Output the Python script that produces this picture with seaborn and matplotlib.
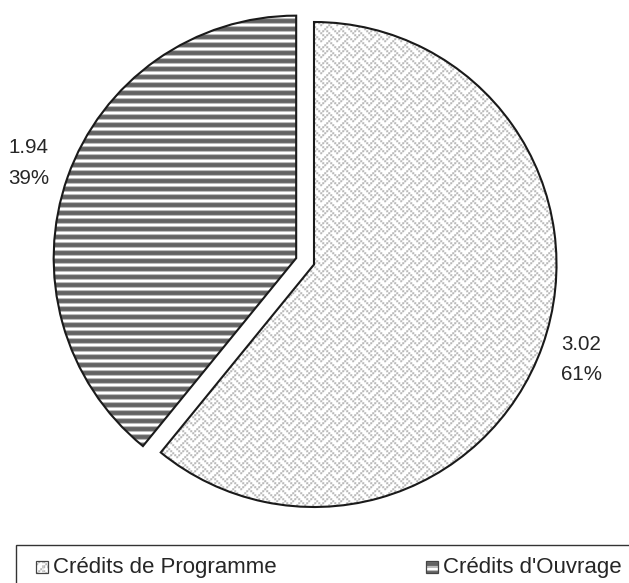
import numpy as np
import matplotlib
matplotlib.use("Agg")
import matplotlib.pyplot as plt
from matplotlib.patches import Rectangle
from matplotlib.transforms import IdentityTransform
import seaborn as sns

# Budget split (values in the chart's unit)
categories = ["Crédits de Programme", "Crédits d'Ouvrage"]
values = [3.02, 1.94]
explode = [0.0, 0.078]

sns.set_theme(style="white")
plt.rcParams["font.family"] = ["Liberation Sans", "DejaVu Sans"]

W, H, DPI = 629, 583, 100
R_PX = 242.5              # pie radius in pixels
CX, CY = 314.0, 264.5     # pie centre, pixels from the top-left corner
TXT = "#262626"
EDGE = "#1a1a1a"

fig = plt.figure(figsize=(W / DPI, H / DPI), dpi=DPI)
ax = fig.add_axes([0, 0, 1, 1])
ax.axis("off")

wedges, _ = ax.pie(values, startangle=90, counterclock=False, explode=explode,
                   colors=["none", "none"],
                   wedgeprops=dict(edgecolor=EDGE, linewidth=1.5, zorder=3))
ax.set_aspect("auto")
x0, x1 = -CX / R_PX, (W - CX) / R_PX
y0, y1 = -(H - CY) / R_PX, CY / R_PX
ax.set_xlim(x0, x1)
ax.set_ylim(y0, y1)


def px2data(px, py):
    return (px - CX) / R_PX, (CY - py) / R_PX


# --- fill textures, one texel per output pixel ---
weave_bits = [0x88, 0x54, 0x22, 0x45, 0x88, 0x14, 0x22, 0x51]
tile = np.array([[(b >> (7 - i)) & 1 for i in range(8)] for b in weave_bits], float)
tile = np.kron(tile, np.ones((2, 2)))
big = np.tile(tile, (H // 16 + 2, W // 16 + 2))
soft = (big + np.roll(big, 1, 0) * 0.35 + np.roll(big, 1, 1) * 0.35) / 1.7
soft = np.clip(soft, 0, 1)[:H, :W]
weave = 1.0 - soft * 0.27
weave_rgb = np.dstack([weave] * 3)

stripe_rows = np.array([1.0, 1.0, 0.74, 0.42, 0.39, 0.39, 0.42, 0.74])
rows = np.tile(stripe_rows, H // len(stripe_rows) + 2)[:H]
stripes = np.repeat(rows[:, None], W, axis=1)
stripe_rgb = np.dstack([stripes] * 3)

textures = [weave_rgb, stripe_rgb]


def textured(tex, clip):
    im = ax.imshow(tex, extent=(x0, x1, y0, y1), origin="upper",
                   interpolation="nearest", zorder=1, aspect="auto")
    im.set_clip_path(clip)
    return im


for w, tex in zip(wedges, textures):
    textured(tex, w)

# value / share labels
total = sum(values)
for w, v in zip(wedges, values):
    theta = np.deg2rad((w.theta1 + w.theta2) / 2)
    cx, cy = w.center
    r = 1.17
    ax.text(cx + r * np.cos(theta), cy + r * np.sin(theta),
            f"{v:.2f}\n{v / total * 100:.0f}%", ha="center", va="center",
            fontsize=14.8, color=TXT, linespacing=1.75, zorder=5)

# --- legend ---
fig.add_artist(Rectangle((16, -20), W, (H - 545) + 20, transform=IdentityTransform(),
                         facecolor="none", edgecolor="#333333", linewidth=1.0))

marker_px = [(36, 561), (426, 561)]
text_px = [53, 443]
for (mx, my), tx, name, tex in zip(marker_px, text_px, categories, textures):
    ax0, ay0 = px2data(mx, my + 12)
    size = 12 / R_PX
    box = Rectangle((ax0, ay0), size, size, facecolor="none", edgecolor="#444444",
                    linewidth=0.9, zorder=4)
    ax.add_patch(box)
    textured(tex, box)
    tx_d, ty_d = px2data(tx, my + 6)
    ax.text(tx_d, ty_d, name, ha="left", va="center", fontsize=16, color=TXT)

fig.savefig("out.png", dpi=DPI)
